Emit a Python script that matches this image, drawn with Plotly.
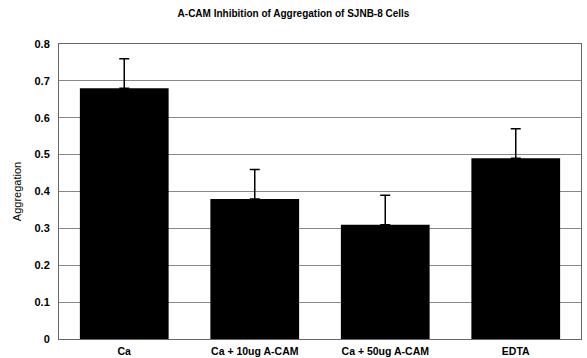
import plotly.graph_objects as go

categories = ["Ca", "Ca + 10ug A-CAM", "Ca + 50ug A-CAM", "EDTA"]
values = [0.68, 0.38, 0.31, 0.49]
errors = [0.08, 0.08, 0.08, 0.08]
yticks = [0, 0.1, 0.2, 0.3, 0.4, 0.5, 0.6, 0.7, 0.8]
yticklabels = ["0", "0.1", "0.2", "0.3", "0.4", "0.5", "0.6", "0.7", "0.8"]

fig = go.Figure(go.Bar(
    x=categories, y=values,
    marker=dict(color="black", line=dict(width=0)),
    width=0.68,
    error_y=dict(type="data", array=errors, arrayminus=[0]*len(errors),
                 symmetric=False, color="black", thickness=1.5, width=5),
))

fig.update_layout(
    width=587, height=358,
    margin=dict(l=59, r=6, t=44, b=19, autoexpand=False),
    paper_bgcolor="white", plot_bgcolor="white",
    font=dict(family="Liberation Sans, Arial, sans-serif", color="black", size=10),
    title=dict(text="<b>A-CAM Inhibition of Aggregation of SJNB-8 Cells</b>",
               x=0.5, xanchor="center", y=0.962, yanchor="middle",
               font=dict(size=10)),
    showlegend=False,
)
fig.update_xaxes(
    automargin=False,
    showline=True, linecolor="#666", linewidth=1, mirror=True,
    ticks="", tickfont=dict(size=10.5),
    ticklabelstandoff=2,
    tickvals=categories,
    ticktext=["<b>%s</b>" % c for c in categories],
)
fig.update_yaxes(
    automargin=False,
    range=[0, 0.8], tickvals=yticks, ticktext=["<b>%s</b>" % t for t in yticklabels],
    showline=True, linecolor="#666", linewidth=1, mirror=True,
    showgrid=True, gridcolor="#888", gridwidth=1,
    ticks="", tickfont=dict(size=11), ticklabelstandoff=6,
    title=dict(text="Aggregation", font=dict(size=11), standoff=10),
    zeroline=False,
)

fig.write_html("out.html", config={"displayModeBar": False},
               post_script="document.body.style.margin='0';")
